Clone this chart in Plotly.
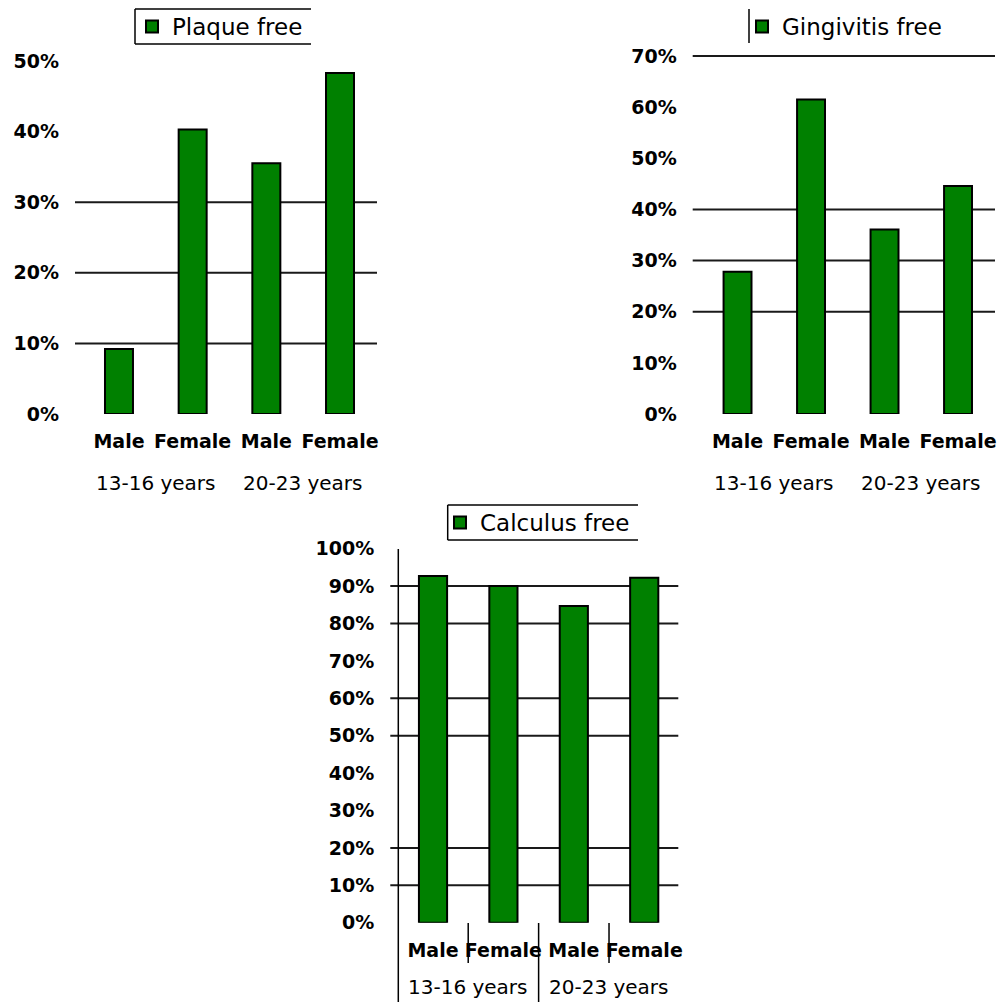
import plotly.graph_objects as go

# ---------------- data ----------------
categories = ["Male", "Female", "Male", "Female"]
age_groups = ["13-16 years", "20-23 years"]

plaque_free = [9.2, 40.3, 35.5, 48.3]
gingivitis_free = [27.8, 61.5, 36.1, 44.6]
calculus_free = [92.7, 90.0, 84.7, 92.2]

plaque_ticks = [0, 10, 20, 30, 40, 50]
gingivitis_ticks = [0, 10, 20, 30, 40, 50, 60, 70]
calculus_ticks = [0, 10, 20, 30, 40, 50, 60, 70, 80, 90, 100]

plaque_grid = [10, 20, 30]
gingivitis_grid = [20, 30, 40, 70]
calculus_grid = [10, 20, 50, 60, 80, 90]

series_names = ["Plaque free", "Gingivitis free", "Calculus free"]

# ---------------- style ----------------
W, H = 999, 1002
GREEN = "#008000"
FONT = "DejaVu Sans"
xpos = list(range(len(categories)))
group_pos = [0.5, 2.5]
PAD = 1.004  # tiny headroom so a gridline at the top tick is not clipped


def px(x):
    return x / W


def py(y):
    return 1 - y / H


fig = go.Figure()

panels = [
    dict(vals=plaque_free, name=series_names[0], ticks=plaque_ticks, grid=plaque_grid,
         xd=[75, 377], base=414, top=61, xr=[-0.597, 3.502],
         legend="legend", bw=0.38, sfx="", gshift=-69),
    dict(vals=gingivitis_free, name=series_names[1], ticks=gingivitis_ticks, grid=gingivitis_grid,
         xd=[692.7, 995], base=414, top=56, xr=[-0.61, 3.503],
         legend="legend2", bw=0.38, sfx="2", gshift=-69),
    dict(vals=calculus_free, name=series_names[2], ticks=calculus_ticks, grid=calculus_grid,
         xd=[398.3, 678.3], base=922.7, top=548.7, xr=[-0.493, 3.484],
         legend="legend3", bw=0.40, sfx="3", gshift=-64),
]

shapes = []
annotations = []
layout_axes = {}

for i, p in enumerate(panels):
    sfx = p["sfx"]
    xa = "x" + sfx
    ya = "y" + sfx
    is3 = (i == 2)
    ymax = p["ticks"][-1]
    span = p["base"] - p["top"]
    top_px = p["base"] - span * PAD
    fig.add_trace(go.Bar(
        x=xpos, y=p["vals"], name=p["name"], width=p["bw"],
        marker=dict(color=GREEN, line=dict(color="black", width=2)),
        xaxis=xa, yaxis=ya, legend=p["legend"], showlegend=True,
    ))
    layout_axes["xaxis" + sfx] = dict(
        domain=[px(p["xd"][0]), px(p["xd"][1])], range=p["xr"], anchor=ya,
        tickvals=xpos, ticktext=categories,
        tickangle=0, showgrid=False, zeroline=False, showline=False, ticks="",
        tickfont=dict(family=FONT, size=19, color="black", weight="bold"),
        ticklabelstandoff=14, fixedrange=True, automargin=False,
    )
    layout_axes["yaxis" + sfx] = dict(
        domain=[py(p["base"]), py(top_px)], range=[0, ymax * PAD], anchor=xa,
        tickvals=p["ticks"], ticktext=[f"{t}%" for t in p["ticks"]],
        showgrid=False, zeroline=False, showline=False, ticks="",
        tickfont=dict(family=FONT, size=19, color="black", weight="bold"),
        ticklabelstandoff=(23 if is3 else 15), fixedrange=True, automargin=False,
    )
    # gridlines
    for g in p["grid"]:
        shapes.append(dict(type="line", xref=xa + " domain", yref=ya,
                           x0=(-8 / 280 if is3 else 0), x1=1, y0=g, y1=g,
                           line=dict(color="#1a1a1a", width=2), layer="below"))
    # age group labels
    for gp, lab in zip(group_pos, age_groups):
        annotations.append(dict(x=gp, y=0, xref=xa, yref=ya, text=lab, showarrow=False,
                                yshift=p["gshift"], xanchor="center", yanchor="middle",
                                font=dict(family=FONT, size=20, color="black")))

# calculus panel: y axis line and category dividers
shapes.append(dict(type="line", xref="x3 domain", yref="paper", x0=0, x1=0,
                   y0=0, y1=py(549), line=dict(color="black", width=1.5)))
for b, ylow in [(0.5, 963), (1.5, 1002), (2.5, 963)]:
    shapes.append(dict(type="line", xref="x3", yref="paper", x0=b, x1=b,
                       y0=py(923), y1=py(ylow), line=dict(color="black", width=1.5)))

# legend frame lines
frame = dict(color="black", width=1.5)
shapes += [
    # legend 1: top, bottom, left
    dict(type="line", xref="paper", yref="paper", x0=px(135), x1=px(311), y0=py(9), y1=py(9), line=frame),
    dict(type="line", xref="paper", yref="paper", x0=px(135), x1=px(311), y0=py(44), y1=py(44), line=frame),
    dict(type="line", xref="paper", yref="paper", x0=px(135), x1=px(135), y0=py(9), y1=py(44), line=frame),
    # legend 2: left only
    dict(type="line", xref="paper", yref="paper", x0=px(749), x1=px(749), y0=py(9), y1=py(43), line=frame),
    # legend 3: top, bottom, left
    dict(type="line", xref="paper", yref="paper", x0=px(447.7), x1=px(638), y0=py(505), y1=py(505), line=frame),
    dict(type="line", xref="paper", yref="paper", x0=px(447.7), x1=px(638), y0=py(540), y1=py(540), line=frame),
    dict(type="line", xref="paper", yref="paper", x0=px(447.7), x1=px(447.7), y0=py(505), y1=py(540), line=frame),
]

leg_common = dict(bgcolor="rgba(0,0,0,0)", borderwidth=0, xanchor="left", yanchor="middle",
                  font=dict(family=FONT, size=23, color="black"), itemclick=False,
                  itemdoubleclick=False)

fig.update_layout(
    width=W, height=H,
    margin=dict(l=0, r=0, t=0, b=0, autoexpand=False),
    paper_bgcolor="white", plot_bgcolor="white",
    shapes=shapes,
    annotations=annotations,
    legend=dict(x=px(132), y=py(26.5), **leg_common),
    legend2=dict(x=px(742), y=py(26.5), **leg_common),
    legend3=dict(x=px(440), y=py(522.5), **leg_common),
    **layout_axes,
)

fig.write_html("out.html")
